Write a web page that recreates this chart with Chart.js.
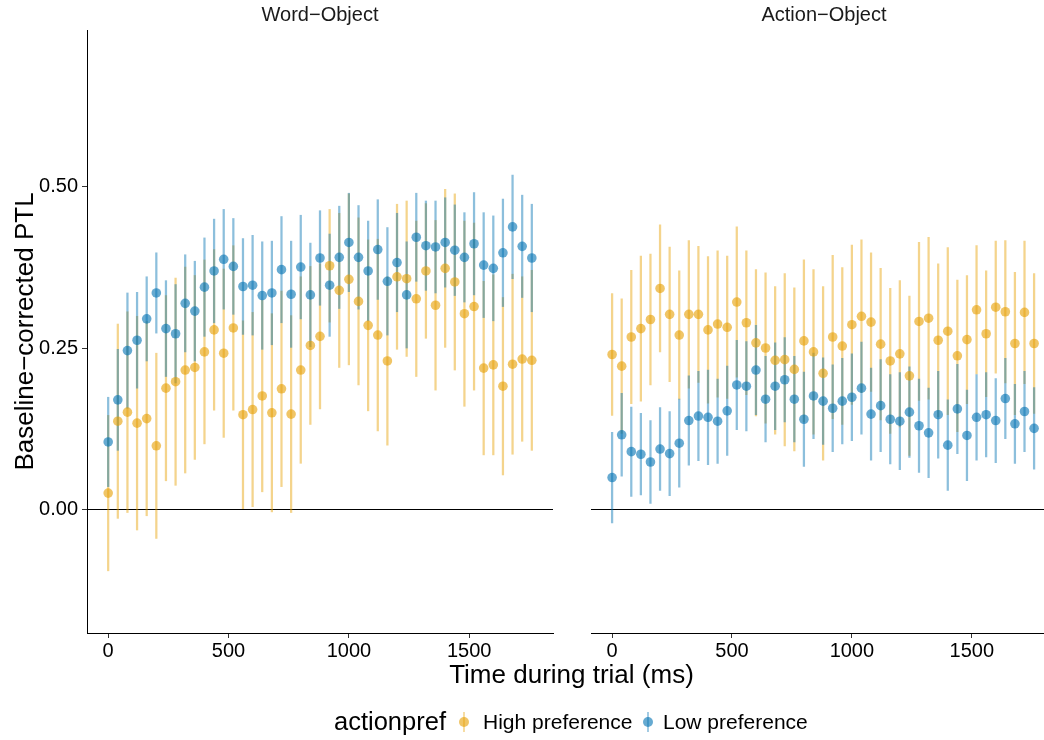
<!DOCTYPE html>
<html><head><meta charset="utf-8">
<script src="https://cdn.jsdelivr.net/npm/chart.js@4/dist/chart.umd.min.js"></script>
<style>
html,body{margin:0;padding:0;background:#fff;overflow:hidden;width:1044px;height:740px;}
#wrap{position:relative;width:1044px;height:740px;overflow:hidden;font-family:"Liberation Sans",Arial,sans-serif;color:#000;}
canvas{position:absolute;top:0;}
.t{position:absolute;white-space:nowrap;}
.strip{top:2px;font-size:20px;line-height:24px;text-align:center;width:466px;color:#1a1a1a;}
.xt{top:659px;left:87px;width:969px;text-align:center;font-size:26px;line-height:30px;}
.lg{font-size:21px;line-height:24px;top:710px;}
</style></head>
<body><div id="wrap">
<canvas id="c1" width="560" height="740" style="left:0;width:560px;height:740px"></canvas>
<canvas id="c2" width="500" height="740" style="left:560px;width:500px;height:740px"></canvas>
<div class="t strip" style="left:87px">Word−Object</div>
<div class="t strip" style="left:591px">Action−Object</div>
<div class="t xt">Time during trial (ms)</div>
<div class="t" style="left:334px;top:706px;font-size:25.5px;line-height:30px;">actionpref</div>
<svg class="t" style="left:458px;top:711px" width="12" height="22"><line x1="6" y1="1" x2="6" y2="21" stroke="rgba(230,159,0,0.45)" stroke-width="1.6"/><circle cx="6" cy="11" r="5" fill="rgba(230,159,0,0.6)"/></svg>
<div class="t lg" style="left:483px">High preference</div>
<svg class="t" style="left:642px;top:711px" width="12" height="22"><line x1="6" y1="1" x2="6" y2="21" stroke="rgba(0,114,178,0.45)" stroke-width="1.6"/><circle cx="6" cy="11" r="5" fill="rgba(0,114,178,0.6)"/></svg>
<div class="t lg" style="left:663px">Low preference</div>
</div>
<script>
const timeMs = [0,40,80,120,160,200,240,280,320,360,400,440,480,520,560,600,640,680,720,760,800,840,880,920,960,1000,1040,1080,1120,1160,1200,1240,1280,1320,1360,1400,1440,1480,1520,1560,1600,1640,1680,1720,1760];
const xTicks = [0,500,1000,1500];
const yTicks = [0,0.25,0.5];

// Word-Object facet
const wordHighMean = [0.026,0.137,0.151,0.134,0.141,0.099,0.188,0.198,0.216,0.220,0.244,0.278,0.242,0.281,0.147,0.155,0.176,0.150,0.187,0.148,0.216,0.254,0.268,0.377,0.339,0.356,0.322,0.285,0.270,0.230,0.360,0.357,0.326,0.369,0.316,0.373,0.352,0.303,0.314,0.219,0.224,0.191,0.225,0.233,0.231];
const wordHighErr  = [0.120,0.150,0.155,0.165,0.150,0.143,0.143,0.160,0.159,0.142,0.142,0.124,0.130,0.127,0.145,0.150,0.148,0.153,0.151,0.152,0.144,0.122,0.112,0.087,0.119,0.132,0.129,0.132,0.148,0.130,0.112,0.120,0.120,0.104,0.131,0.122,0.136,0.143,0.129,0.134,0.139,0.137,0.139,0.127,0.139];
const wordLowMean  = [0.105,0.170,0.246,0.262,0.295,0.335,0.280,0.272,0.319,0.307,0.344,0.369,0.387,0.376,0.345,0.347,0.331,0.335,0.371,0.333,0.375,0.332,0.389,0.347,0.390,0.413,0.390,0.369,0.402,0.353,0.382,0.332,0.421,0.408,0.406,0.413,0.401,0.390,0.411,0.378,0.373,0.397,0.437,0.407,0.389];
const wordLowErr   = [0.069,0.078,0.089,0.074,0.065,0.062,0.074,0.076,0.075,0.077,0.076,0.080,0.077,0.074,0.074,0.077,0.083,0.080,0.082,0.082,0.080,0.080,0.073,0.079,0.079,0.076,0.080,0.077,0.077,0.083,0.076,0.082,0.068,0.069,0.071,0.069,0.070,0.069,0.079,0.081,0.081,0.083,0.080,0.079,0.083];

// Action-Object facet
const actionHighMean = [0.240,0.222,0.267,0.280,0.294,0.342,0.302,0.270,0.302,0.302,0.278,0.287,0.282,0.321,0.289,0.258,0.250,0.231,0.232,0.217,0.261,0.244,0.211,0.267,0.253,0.286,0.299,0.290,0.256,0.230,0.241,0.207,0.291,0.296,0.262,0.276,0.238,0.263,0.309,0.272,0.313,0.306,0.257,0.305,0.257];
const actionHighErr  = [0.094,0.104,0.103,0.112,0.101,0.098,0.104,0.099,0.114,0.105,0.113,0.113,0.110,0.116,0.111,0.113,0.116,0.114,0.133,0.126,0.125,0.127,0.134,0.126,0.121,0.123,0.118,0.107,0.117,0.112,0.113,0.123,0.122,0.125,0.118,0.129,0.117,0.099,0.099,0.097,0.102,0.110,0.110,0.110,0.108];
const actionLowMean  = [0.050,0.116,0.090,0.086,0.074,0.094,0.087,0.103,0.138,0.145,0.143,0.137,0.153,0.193,0.191,0.216,0.171,0.191,0.201,0.171,0.140,0.176,0.168,0.157,0.168,0.174,0.188,0.148,0.161,0.140,0.137,0.151,0.130,0.119,0.147,0.100,0.156,0.115,0.143,0.147,0.138,0.172,0.133,0.152,0.126];
const actionLowErr   = [0.070,0.064,0.069,0.063,0.064,0.064,0.065,0.068,0.069,0.069,0.073,0.065,0.069,0.069,0.069,0.069,0.066,0.067,0.065,0.066,0.073,0.066,0.067,0.067,0.066,0.067,0.071,0.071,0.071,0.069,0.075,0.070,0.072,0.069,0.067,0.070,0.069,0.070,0.066,0.065,0.065,0.062,0.061,0.062,0.063];

const HIGH = '230,159,0', LOW = '0,114,178';
const FONT = 'Liberation Sans, Arial, sans-serif';

function pts(mean){ return timeMs.map((t,i)=>({x:t, y:mean[i]})); }
function bars(mean, err){ return timeMs.map((t,i)=>({x:t, y:[mean[i]-err[i], mean[i]+err[i]]})); }

function makeChart(id, hM, hE, lM, lE, isLeft){
  return new Chart(document.getElementById(id), {
    type: 'scatter',
    data: { datasets: [
      {type:'scatter', label:'Low preference', data:pts(lM), backgroundColor:`rgba(${LOW},0.6)`, borderWidth:0, pointRadius:4.8, order:0},
      {type:'scatter', label:'High preference', data:pts(hM), backgroundColor:`rgba(${HIGH},0.6)`, borderWidth:0, pointRadius:4.8, order:1},
      {type:'bar', label:'Low preference CI', data:bars(lM,lE), backgroundColor:`rgba(${LOW},0.45)`, barThickness:1.6, grouped:false, borderWidth:0, order:2},
      {type:'bar', label:'High preference CI', data:bars(hM,hE), backgroundColor:`rgba(${HIGH},0.45)`, barThickness:1.6, grouped:false, borderWidth:0, order:3}
    ]},
    options: {
      responsive:false, animation:false, devicePixelRatio:1,
      layout:{padding:{top:30, bottom:0, left:isLeft?0:31, right:isLeft?7:4}},
      plugins:{legend:{display:false}, tooltip:{enabled:false}},
      scales: {
        x: {
          type:'linear', min:-88, max:1848, offset:false,
          afterBuildTicks: s => { s.ticks = xTicks.map(v => ({value:v})); },
          afterFit: s => { s.height = 107; },
          grid:{offset:false, drawOnChartArea:false, drawTicks:true, tickLength:5, tickColor:'#333'},
          border:{display:true, color:'#000', width:1},
          ticks:{autoSkip:false, maxRotation:0, padding:1, color:'#000', font:{family:FONT, size:20}, callback: v => String(v)}
        },
        y: {
          type:'linear', min:-0.19, max:0.741,
          afterBuildTicks: s => { s.ticks = yTicks.map(v => ({value:v})); },
          afterFit: s => { s.width = isLeft ? 87 : 0; },
          grid:{offset:false, color: c => (c.tick && c.tick.value === 0) ? '#000' : 'rgba(0,0,0,0)', lineWidth:1, drawTicks:isLeft, tickLength:5, tickColor:'#333'},
          border:{display:isLeft, color:'#000', width:1},
          ticks:{display:isLeft, padding:4, color:'#000', font:{family:FONT, size:20}, callback: v => Number(v).toFixed(2)},
          title:{display:isLeft, text:'Baseline−corrected PTL', color:'#000', font:{family:FONT, size:26}, padding:{top:10, bottom:0}}
        }
      }
    }
  });
}

makeChart('c1', wordHighMean, wordHighErr, wordLowMean, wordLowErr, true);
makeChart('c2', actionHighMean, actionHighErr, actionLowMean, actionLowErr, false);
</script>
</body></html>
